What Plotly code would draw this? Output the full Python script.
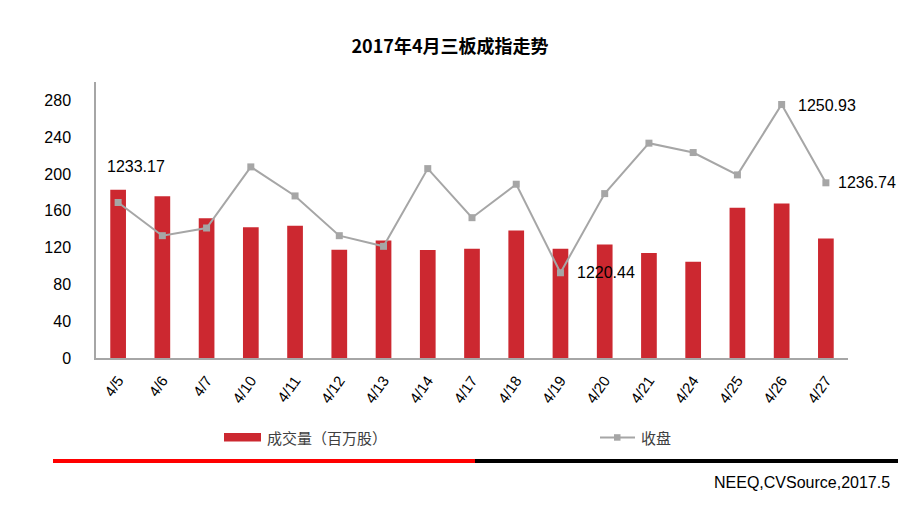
import plotly.graph_objects as go

dates = ["4/5", "4/6", "4/7", "4/10", "4/11", "4/12", "4/13", "4/14", "4/17",
         "4/18", "4/19", "4/20", "4/21", "4/24", "4/25", "4/26", "4/27"]
volume = [183, 175.7, 152, 142, 143.8, 117.6, 127.8, 117.3, 118.7,
          138.7, 118.7, 123.4, 114, 104.6, 163.4, 167.8, 130]
close = [1233.17, 1227.16, 1228.55, 1239.62, 1234.36, 1227.16, 1225.23, 1239.31, 1230.42,
         1236.48, 1220.44, 1234.78, 1243.92, 1242.22, 1238.17, 1250.93, 1236.74]
y_ticks = [0, 40, 80, 120, 160, 200, 240, 280]
labeled = {"4/5": (18, 36, "center"), "4/19": (15, 0, "left"),
           "4/26": (14, -1, "left"), "4/27": (10, 0, "left")}

W_FIG, H_FIG = 898, 506
L, R, T, B = 96, 50, 82, 148
PW, PH = W_FIG - L - R, H_FIG - T - B


def px(x):
    return (x - L) / PW


def py(y):
    return (T + PH - y) / PH


BAR_COLOR = "#cc2830"
LINE_COLOR = "#a6a6a6"
FONT = "Liberation Sans, Arial, sans-serif"
CJK = "Noto Sans CJK SC, sans-serif"

fig = go.Figure()
fig.add_trace(go.Bar(x=dates, y=volume, name="成交量（百万股）",
                     marker=dict(color=BAR_COLOR, line=dict(width=0)),
                     showlegend=False))
fig.add_trace(go.Scatter(x=dates, y=close, name="收盘", yaxis="y2",
                         mode="lines+markers",
                         line=dict(color=LINE_COLOR, width=2),
                         marker=dict(symbol="square", size=7, color=LINE_COLOR),
                         showlegend=False))

annotations = []
for d, v in zip(dates, close):
    if d in labeled:
        xs, ys, anc = labeled[d]
        annotations.append(dict(x=d, y=v, xref="x", yref="y2", text=f"{v:.2f}",
                                showarrow=False, xanchor=anc, yanchor="middle",
                                xshift=xs, yshift=ys,
                                font=dict(family=FONT, size=16, color="#000000")))

# legend (manual)
annotations.append(dict(x=px(265), y=py(437.5), xref="paper", yref="paper",
                        text="成交量（百万股）", showarrow=False, xanchor="left",
                        yanchor="middle", font=dict(family=CJK, size=15, color="#404040")))
annotations.append(dict(x=px(639), y=py(437.5), xref="paper", yref="paper",
                        text="收盘", showarrow=False, xanchor="left",
                        yanchor="middle", font=dict(family=CJK, size=15, color="#404040")))
# source
annotations.append(dict(x=px(892), y=py(482), xref="paper", yref="paper",
                        text="NEEQ,CVSource,2017.5", showarrow=False, xanchor="right",
                        yanchor="middle", font=dict(family=FONT, size=16, color="#000000")))

shapes = [
    dict(type="rect", xref="paper", yref="paper", x0=px(224), x1=px(261),
         y0=py(441.5), y1=py(433), fillcolor=BAR_COLOR, line=dict(width=0)),
    dict(type="line", xref="paper", yref="paper", x0=px(600), x1=px(635),
         y0=py(437.5), y1=py(437.5), line=dict(color=LINE_COLOR, width=2)),
    dict(type="rect", xref="paper", yref="paper", x0=px(614), x1=px(620.5),
         y0=py(440.7), y1=py(434.2), fillcolor=LINE_COLOR, line=dict(width=0)),
    dict(type="line", xref="paper", yref="paper", x0=px(53), x1=px(475),
         y0=py(461), y1=py(461), line=dict(color="#ff0000", width=4)),
    dict(type="line", xref="paper", yref="paper", x0=px(475), x1=px(898),
         y0=py(461), y1=py(461), line=dict(color="#000000", width=4)),
]

fig.update_layout(
    width=W_FIG, height=H_FIG,
    margin=dict(l=L, r=R, t=T, b=B, pad=0),
    paper_bgcolor="white", plot_bgcolor="white",
    bargap=0.645,
    title=dict(text="<b>2017年4月三板成指走势</b>", x=450 / W_FIG, xref="container",
               xanchor="center", y=1 - 47 / H_FIG, yref="container", yanchor="middle",
               font=dict(family=CJK, size=18, color="#000000")),
    xaxis=dict(type="category", range=[-0.5, len(dates) - 0.5], showline=True,
               linecolor=LINE_COLOR, linewidth=1.5,
               showgrid=False, ticks="", tickangle=-55, ticklabelstandoff=6,
               tickfont=dict(family=FONT, size=15, color="#000000")),
    yaxis=dict(range=[0, 300], tickvals=y_ticks, showline=True, linecolor=LINE_COLOR,
               linewidth=1.5, showgrid=False, ticks="", zeroline=False,
               ticklabelstandoff=20,
               tickfont=dict(family=FONT, size=16, color="#000000")),
    yaxis2=dict(range=[1205, 1255], overlaying="y", side="right", visible=False,
                showgrid=False),
    annotations=annotations,
    shapes=shapes,
)

fig.write_html("out.html", config={"displayModeBar": False},
               post_script="document.body.style.margin='0';document.body.style.overflow='hidden';")
